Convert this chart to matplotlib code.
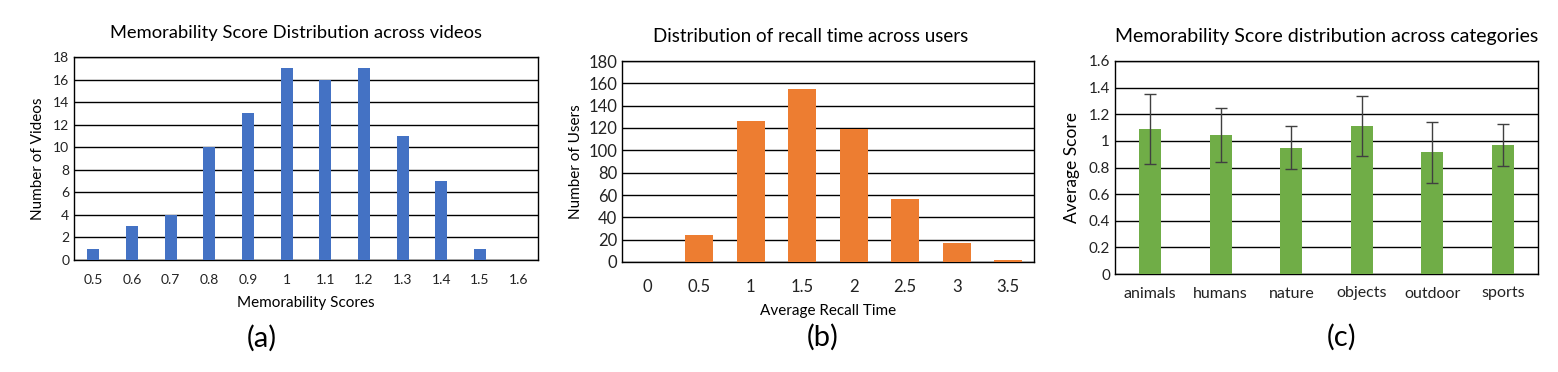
import numpy as np
import matplotlib
matplotlib.use("Agg")
from matplotlib import pyplot as plt

plt.rcParams['font.family'] = ['Lato', 'DejaVu Sans']

# (a) memorability score distribution
score_bins = ['0.5', '0.6', '0.7', '0.8', '0.9', '1', '1.1', '1.2', '1.3', '1.4', '1.5', '1.6']
video_counts = [1, 3, 4, 10, 13, 17, 16, 17, 11, 7, 1, 0]

# (b) recall time distribution
recall_bins = ['0', '0.5', '1', '1.5', '2', '2.5', '3', '3.5']
user_counts = [0, 24, 126, 155, 119, 56, 17, 2]

# (c) per category score
categories = ['animals', 'humans', 'nature', 'objects', 'outdoor', 'sports']
avg_score = [1.09, 1.045, 0.95, 1.11, 0.915, 0.97]
score_err = [0.265, 0.205, 0.16, 0.225, 0.23, 0.16]

W, H = 1558, 372
fig = plt.figure(figsize=(W / 100, H / 100), dpi=100)


def box(l, t, r, b):
    return [l / W, 1 - b / H, (r - l) / W, (b - t) / H]


def style(ax, ymax, step):
    ax.set_yticks(np.arange(0, ymax + step / 2, step))
    ax.set_ylim(0, ymax)
    ax.yaxis.grid(True, color='black', linewidth=1.0)
    ax.set_axisbelow(True)
    for s in ax.spines.values():
        s.set_color('black')
        s.set_linewidth(1.0)
    ax.tick_params(length=0, labelsize=10, colors='#222222')
    ax.tick_params(axis='x', pad=10)


ax1 = fig.add_axes(box(74, 57, 538, 260))
x = np.arange(len(score_bins))
ax1.bar(x, video_counts, width=0.31, color='#4472C4', zorder=3)
ax1.set_xticks(x)
ax1.set_xticklabels(score_bins)
ax1.set_xlim(-0.5, len(score_bins) - 0.5)
style(ax1, 18, 2)
ax1.set_ylabel('Number of Videos', fontsize=11, labelpad=6)
ax1.set_xlabel('Memorability Scores', fontsize=11, labelpad=7)
ax1.set_title('Memorability Score Distribution across videos', fontsize=13.2, pad=14, x=0.478)
fig.text(262 / W, 1 - 338 / H, '(a)', fontsize=21, ha='center', va='center')

ax2 = fig.add_axes(box(622, 61, 1034, 262))
x = np.arange(len(recall_bins))
ax2.bar(x, user_counts, width=0.54, color='#ED7D31', zorder=3)
ax2.set_xticks(x)
ax2.set_xticklabels(recall_bins)
ax2.set_xlim(-0.5, len(recall_bins) - 0.5)
style(ax2, 180, 20)
ax2.tick_params(axis='y', labelsize=12)
ax2.tick_params(axis='x', labelsize=12, pad=12)
ax2.set_ylabel('Number of Users', fontsize=11, labelpad=4)
ax2.set_xlabel('Average Recall Time', fontsize=11, labelpad=7)
ax2.set_title('Distribution of recall time across users', fontsize=13.5, pad=14, x=0.459)
fig.text(823 / W, 1 - 337 / H, '(b)', fontsize=21, ha='center', va='center')

ax3 = fig.add_axes(box(1115, 61, 1538, 274))
x = np.arange(len(categories))
ax3.bar(x, avg_score, width=0.31, color='#70AD47', zorder=3,
        yerr=score_err, error_kw=dict(ecolor='#404040', elinewidth=1, capsize=4, capthick=1))
ax3.set_xticks(x)
ax3.set_xticklabels(categories)
ax3.set_xlim(-0.5, len(categories) - 0.5)
style(ax3, 1.6, 0.2)
ax3.set_yticklabels(['0', '0.2', '0.4', '0.6', '0.8', '1', '1.2', '1.4', '1.6'])
ax3.tick_params(axis='y', labelsize=11)
ax3.tick_params(axis='x', labelsize=11.5, pad=9)
ax3.set_ylabel('Average Score', fontsize=12.5, labelpad=6)
ax3.set_title('Memorability Score distribution across categories', fontsize=14, pad=14)
fig.text(1342 / W, 1 - 337 / H, '(c)', fontsize=21, ha='center', va='center')

fig.savefig('out.png', dpi=100)
